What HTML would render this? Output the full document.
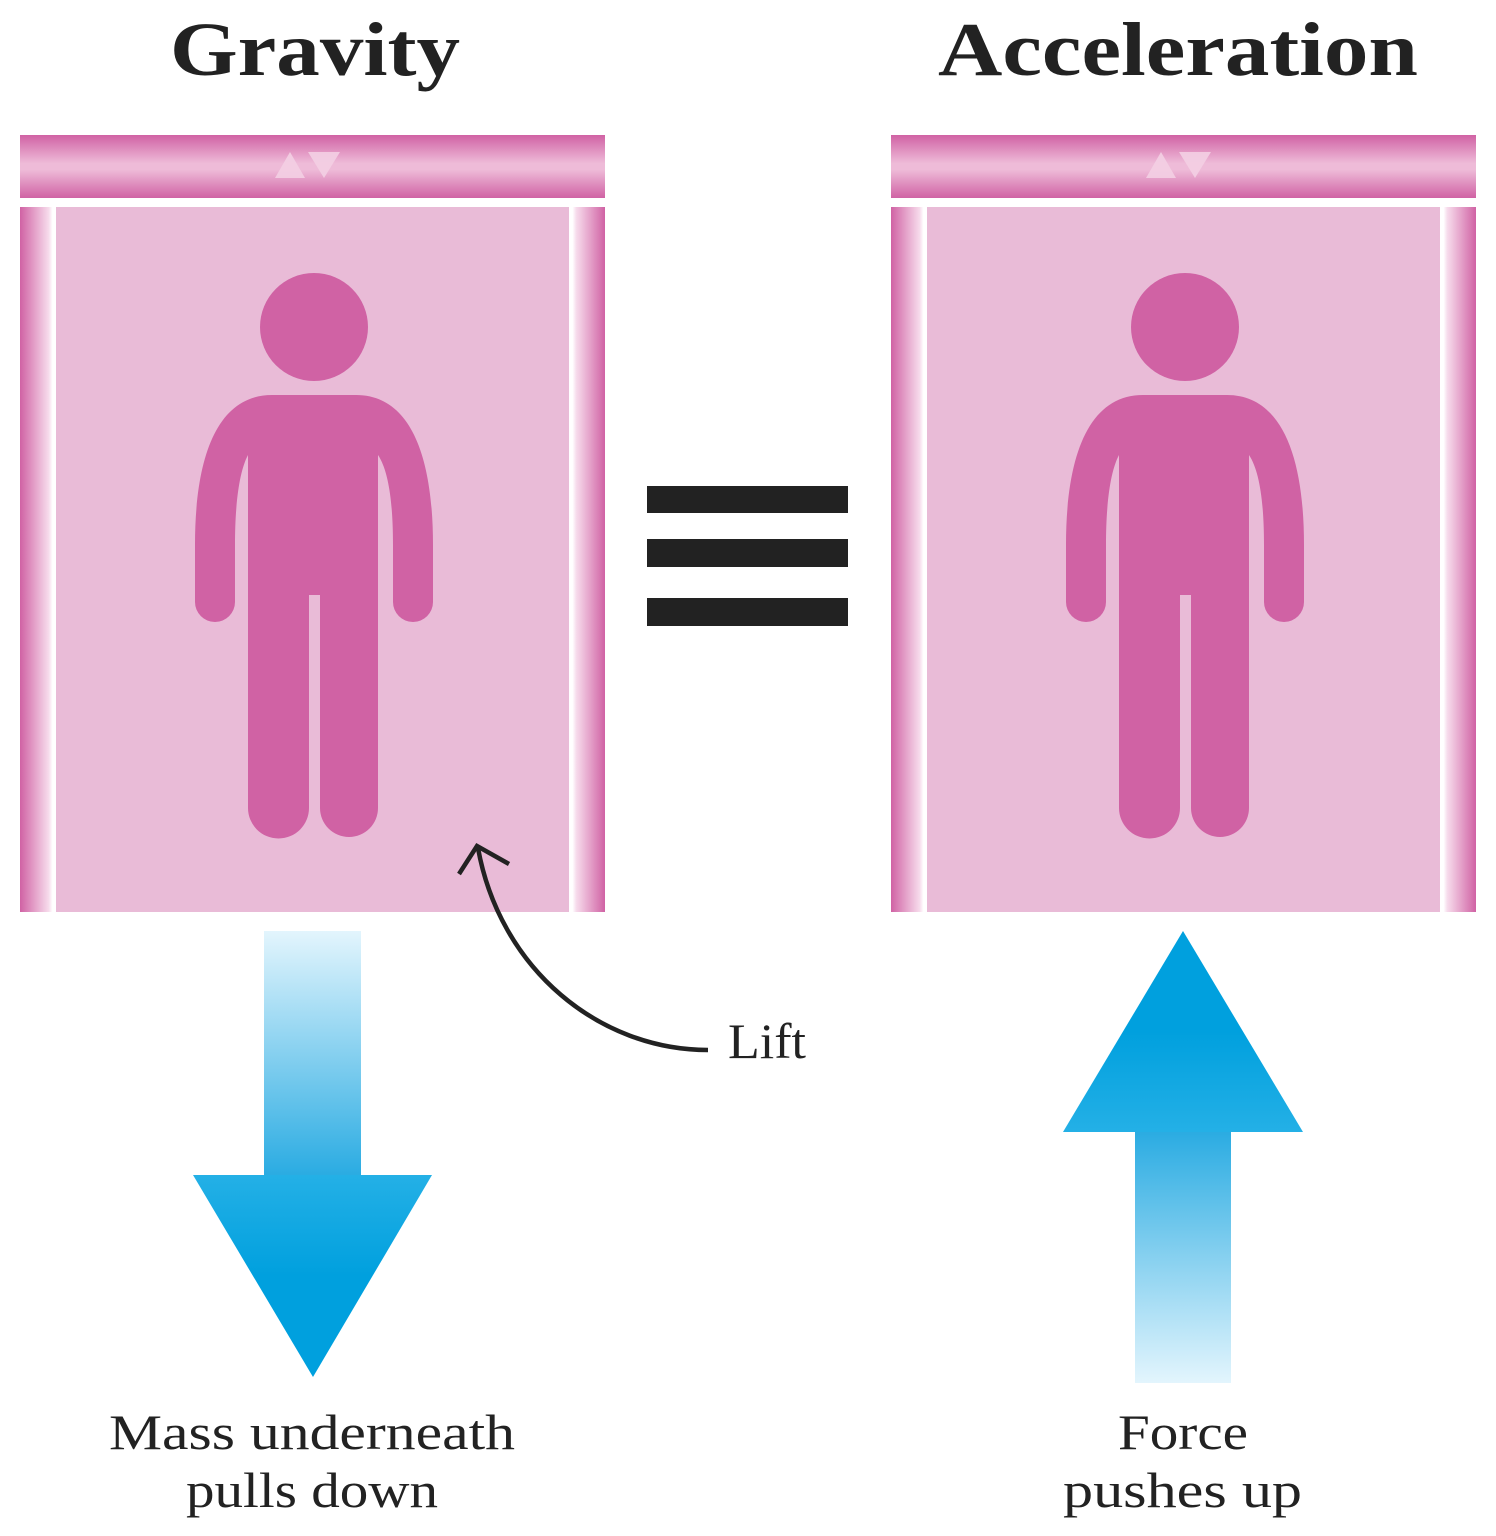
<!DOCTYPE html>
<html><head><meta charset="utf-8"><style>
html,body{margin:0;padding:0;background:#fff;}
svg{display:block}
text{font-family:"Liberation Serif",serif;fill:#222}
</style></head><body>
<svg width="1496" height="1536" viewBox="0 0 1496 1536">
<defs>
<linearGradient id="bar" x1="0" y1="0" x2="0" y2="1">
<stop offset="0" stop-color="#d062a4"/><stop offset="0.45" stop-color="#eebbd8"/><stop offset="0.55" stop-color="#eebbd8"/><stop offset="1" stop-color="#d062a4"/></linearGradient>
<linearGradient id="pl" x1="0" y1="0" x2="1" y2="0">
<stop offset="0" stop-color="#d062a4"/><stop offset="0.8" stop-color="#f7dcec"/><stop offset="0.9" stop-color="#fff"/><stop offset="1" stop-color="#fff"/></linearGradient>
<linearGradient id="pr" x1="1" y1="0" x2="0" y2="0">
<stop offset="0" stop-color="#d062a4"/><stop offset="0.8" stop-color="#f7dcec"/><stop offset="0.9" stop-color="#fff"/><stop offset="1" stop-color="#fff"/></linearGradient>
<linearGradient id="down" x1="0" y1="0" x2="0" y2="1">
<stop offset="0" stop-color="#e3f5fd"/><stop offset="1" stop-color="#29abe2"/></linearGradient>
<linearGradient id="up" x1="0" y1="1" x2="0" y2="0">
<stop offset="0" stop-color="#e3f5fd"/><stop offset="1" stop-color="#29abe2"/></linearGradient>
<linearGradient id="headd" x1="0" y1="0" x2="0" y2="1">
<stop offset="0" stop-color="#24b0e6"/><stop offset="0.5" stop-color="#00a0de"/></linearGradient>
<linearGradient id="headu" x1="0" y1="1" x2="0" y2="0">
<stop offset="0" stop-color="#24b0e6"/><stop offset="0.5" stop-color="#00a0de"/></linearGradient>
<g id="lift">
<rect x="20" y="135" width="585" height="63" fill="url(#bar)"/>
<polygon points="275,178 290,152 305,178" fill="#f3cfe3" opacity="0.9"/>
<polygon points="308,152 340,152 324,178" fill="#f3cfe3" opacity="0.9"/>
<rect x="56" y="207" width="513" height="705" fill="#e9bbd7"/>
<rect x="20" y="207" width="36" height="705" fill="url(#pl)"/>
<rect x="569" y="207" width="36" height="705" fill="url(#pr)"/>
<circle cx="314" cy="327" r="54" fill="#d062a4"/>
<path d="M272 395 H356 C410 395 433 455 433 545 V602 A20 20 0 0 1 393 602 V545 C393 500 388 470 378 455 V808 A29 29 0 0 1 320 808 V595 H309 V808 A30.5 30.5 0 0 1 248 808 V455 C240 470 235 500 235 545 V602 A20 20 0 0 1 195 602 V545 C195 455 218 395 272 395 Z" fill="#d062a4"/>
</g>
</defs>
<text x="170" y="75" textLength="290" lengthAdjust="spacingAndGlyphs" font-size="76" font-weight="bold">Gravity</text>
<text x="938" y="75" textLength="480" lengthAdjust="spacingAndGlyphs" font-size="76" font-weight="bold">Acceleration</text>
<use href="#lift"/>
<use href="#lift" x="871"/>
<g fill="#222">
<rect x="647" y="486" width="201" height="27"/><rect x="647" y="539" width="201" height="28"/><rect x="647" y="598" width="201" height="28"/></g>
<g>
<rect x="264" y="931" width="97" height="246" fill="url(#down)"/>
<polygon points="193,1175 432,1175 313,1377" fill="url(#headd)"/></g>
<g>
<rect x="1135" y="1130" width="96" height="253" fill="url(#up)"/>
<polygon points="1063,1132 1303,1132 1183,931" fill="url(#headu)"/></g>
<g fill="none" stroke="#222" stroke-width="4.5">
<path d="M708 1050 C600 1050 500 970 478 848"/>
<path d="M459 874 L477 846 L509 864"/></g>
<text x="728" y="1058" textLength="78" lengthAdjust="spacingAndGlyphs" font-size="50">Lift</text>
<text x="109" y="1449" textLength="406" lengthAdjust="spacingAndGlyphs" font-size="50">Mass underneath</text>
<text x="186" y="1507" textLength="252" lengthAdjust="spacingAndGlyphs" font-size="50">pulls down</text>
<text x="1118" y="1449" textLength="130" lengthAdjust="spacingAndGlyphs" font-size="50">Force</text>
<text x="1063" y="1507" textLength="239" lengthAdjust="spacingAndGlyphs" font-size="50">pushes up</text>
</svg>
</body></html>
